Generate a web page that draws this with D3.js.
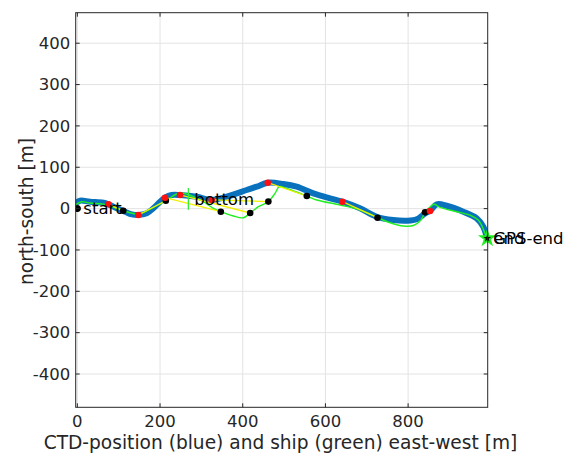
<!DOCTYPE html>
<html><head><meta charset="utf-8">
<script src="https://cdn.jsdelivr.net/npm/d3@7"></script>
<style>html,body{margin:0;padding:0;background:#fff;}svg{display:block;}</style>
</head><body><svg id="c" width="568" height="453"></svg>
<script>
// ---- data ----
const xTicks = [0, 200, 400, 600, 800];
const yTicks = [-400, -300, -200, -100, 0, 100, 200, 300, 400];
const xDomain = [-4, 992.5];
const yDomain = [-480.5, 473.8];
// CTD track (blue)
const ctdX = [-5.6, 6.5, 30.7, 62.9, 75, 95.3, 115.4, 131.6, 147.5, 167.8, 183.8, 200, 212, 228.3, 248.4, 288.8, 325, 361.3, 409.7, 433.9, 460.5, 498.2, 530.6, 570.7, 611.1, 640.9, 683.7, 724.1, 764.2, 796.6, 820.8, 840.9, 853, 869.2, 893.3, 933.5, 965.9, 981.9, 990];
const ctdY = [12.8, 19.1, 16.7, 14.3, 10.4, 0.7, -7.5, -13.8, -15.5, -11.4, 0.7, 16.7, 26.4, 32.9, 32.9, 28.8, 20.8, 28.8, 45, 53, 62.6, 59.5, 53, 37, 24.9, 16.7, 0.7, -19.6, -27.6, -29.3, -25.9, -11.4, -5.1, 10.4, 7, -7.5, -23.5, -43.8, -68.7];
// ship track (green)
const shipX = [-5.6, 10.6, 30.7, 62, 79, 111.2, 147.5, 175.8, 213.8, 240.4, 256.3, 280.5, 304.7, 328.9, 346.8, 377.3, 401.5, 417.7, 437.7, 461.9, 478.1, 488.5, 509.6, 554.8, 579, 635.3, 683.7, 726.5, 756.2, 788.4, 812.6, 831.2, 840.9, 853, 862.6, 877.1, 917.5, 949.7, 969.8, 986, 990.1];
const shipY = [8.7, 16.7, 13.5, 11, 6.3, -5.1, -13.1, -1, 19.1, 35.3, 37, 28.8, 16.7, 0.7, -7.5, -17.9, -22, -11.4, 4.6, 16.7, 37, 53, 47.4, 30.5, 20.8, 8.7, -3.4, -22, -34.1, -42.1, -40.9, -27.6, -8.9, 3.9, 10.4, 3.1, -7.5, -15.5, -27.6, -59.7, -71.8];
// paired positions at the same times
const ctdDotX = [0, 75, 147.5, 212, 248.4, 325, 460.5, 640.9, 853];
const ctdDotY = [0, 10.4, -15.5, 26.4, 33, 21, 62.6, 16.7, -5.8];
const shipDotX = [0, 111, 214, 347, 418, 462, 555, 726, 841];
const shipDotY = [0, -5, 19, -7.5, -10.6, 17, 30.5, -22, -9];
// bottom marker (vertical bar) and end
const bottomX = 268.5, bottomY = [-3, 50];
const endX = 991.5, endY = -71.8;
const labels = [
  {text: "start", x: 0, y: 0},
  {text: "bottom", x: 268.5, y: 23},
  {text: "end", x: 991.5, y: -71.8},
  {text: "GPS-end", x: 991.5, y: -71.8}
];
const xLabel = "CTD-position (blue) and ship (green) east-west [m]";
const yLabel = "north-south [m]";

// ---- drawing ----
const L = 75.7, R = 487.7, T = 12.7, B = 407.3;
const svg = d3.select("#c");
const x = d3.scaleLinear().domain(xDomain).range([L, R]);
const y = d3.scaleLinear().domain(yDomain).range([B, T]);
const font = "DejaVu Sans, sans-serif";
const axCol = "#262626";

svg.append("rect").attr("width", 568).attr("height", 453).attr("fill", "#fff");

// grid
const g = svg.append("g");
g.selectAll(".gx").data(xTicks).join("line")
  .attr("x1", d => x(d)).attr("x2", d => x(d)).attr("y1", T).attr("y2", B)
  .attr("stroke", "#e3e3e3").attr("stroke-width", 1);
g.selectAll(".gy").data(yTicks).join("line")
  .attr("y1", d => y(d)).attr("y2", d => y(d)).attr("x1", L).attr("x2", R)
  .attr("stroke", "#e3e3e3").attr("stroke-width", 1);

svg.append("clipPath").attr("id", "clp").append("rect")
  .attr("x", L).attr("y", T).attr("width", R - L).attr("height", B - T);
const pg = svg.append("g").attr("clip-path", "url(#clp)");

const line = d3.line().x(d => x(d[0])).y(d => y(d[1])).curve(d3.curveCatmullRom.alpha(0.5));
pg.append("path").datum(d3.zip(ctdX, ctdY)).attr("d", line)
  .attr("fill", "none").attr("stroke", "#0a72bd").attr("stroke-width", 6)
  .attr("stroke-linejoin", "round").attr("stroke-linecap", "round");
pg.append("path").datum(d3.zip(shipX, shipY)).attr("d", line)
  .attr("fill", "none").attr("stroke", "#22ee22").attr("stroke-width", 1.4);
// yellow connectors
pg.selectAll(".yl").data(d3.range(ctdDotX.length)).join("line")
  .attr("x1", i => x(ctdDotX[i])).attr("y1", i => y(ctdDotY[i]))
  .attr("x2", i => x(shipDotX[i])).attr("y2", i => y(shipDotY[i]))
  .attr("stroke", "#f0f000").attr("stroke-width", 1.3);
// bottom marker
pg.append("line").attr("x1", x(bottomX)).attr("x2", x(bottomX))
  .attr("y1", y(bottomY[0])).attr("y2", y(bottomY[1]))
  .attr("stroke", "#33ee33").attr("stroke-width", 1.3);
// dots
pg.selectAll(".kd").data(d3.range(shipDotX.length)).join("circle")
  .attr("cx", i => x(shipDotX[i])).attr("cy", i => y(shipDotY[i])).attr("r", 3.3)
  .attr("fill", "#000");
pg.selectAll(".rd").data(d3.range(1, ctdDotX.length)).join("circle")
  .attr("cx", i => x(ctdDotX[i])).attr("cy", i => y(ctdDotY[i])).attr("r", 3.3)
  .attr("fill", "#ff1010");
pg.append("circle").attr("cx", x(shipDotX[0])).attr("cy", y(shipDotY[0])).attr("r", 3.3).attr("fill", "#000");

// end star
svg.append("path").attr("d", d3.symbol(d3.symbolStar, 110)())
  .attr("transform", `translate(${x(endX)},${y(endY)})`)
  .attr("fill", "#22ee22");
svg.append("path").attr("d", d3.symbol(d3.symbolStar, 18)())
  .attr("transform", `translate(${x(endX)},${y(endY)})`)
  .attr("fill", "#000");

// labels
svg.selectAll(".lab").data(labels).join("text")
  .attr("x", d => x(d.x) + 6).attr("y", d => y(d.y))
  .attr("dy", "0.35em")
  .attr("font-family", font).attr("font-size", 16.5).attr("fill", "#000")
  .text(d => d.text);

// axes box
svg.append("rect").attr("x", L).attr("y", T).attr("width", R - L).attr("height", B - T)
  .attr("fill", "none").attr("stroke", axCol).attr("stroke-width", 1);
const tl = 4;
const tk = svg.append("g").attr("stroke", axCol).attr("stroke-width", 1);
xTicks.forEach(t => {
  tk.append("line").attr("x1", x(t)).attr("x2", x(t)).attr("y1", B).attr("y2", B - tl);
  tk.append("line").attr("x1", x(t)).attr("x2", x(t)).attr("y1", T).attr("y2", T + tl);
});
yTicks.forEach(t => {
  tk.append("line").attr("y1", y(t)).attr("y2", y(t)).attr("x1", L).attr("x2", L + tl);
  tk.append("line").attr("y1", y(t)).attr("y2", y(t)).attr("x1", R).attr("x2", R - tl);
});
// tick labels
svg.selectAll(".xt").data(xTicks).join("text")
  .attr("x", d => x(d)).attr("y", B + 20).attr("text-anchor", "middle")
  .attr("font-family", font).attr("font-size", 16.5).attr("fill", axCol).text(d => d);
svg.selectAll(".yt").data(yTicks).join("text")
  .attr("x", L - 5.5).attr("y", d => y(d)).attr("dy", "0.35em").attr("text-anchor", "end")
  .attr("font-family", font).attr("font-size", 16.5).attr("fill", axCol).text(d => d);
// axis titles
svg.append("text").attr("x", 280.5).attr("y", 448.5).attr("text-anchor", "middle")
  .attr("font-family", font).attr("font-size", 18.6).attr("fill", axCol).text(xLabel);
svg.append("text").attr("transform", `translate(32.5,211.5) rotate(-90)`)
  .attr("text-anchor", "middle")
  .attr("font-family", font).attr("font-size", 18.6).attr("fill", axCol).text(yLabel);
</script></body></html>
